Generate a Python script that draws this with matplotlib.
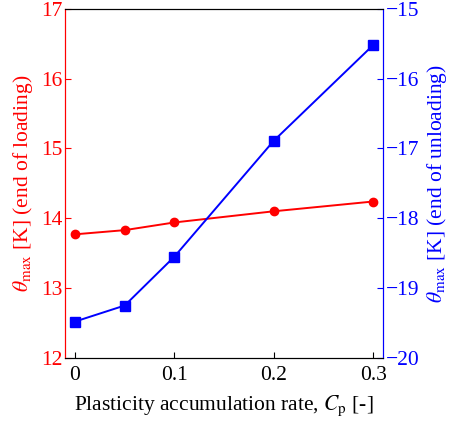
import matplotlib
matplotlib.use("Agg")
import matplotlib.pyplot as plt

# data
cp_rate = [0.0, 0.05, 0.1, 0.2, 0.3]
theta_loading = [13.77, 13.83, 13.94, 14.10, 14.24]
theta_unloading = [-19.48, -19.25, -18.55, -16.89, -15.52]

x_ticks = [0, 0.1, 0.2, 0.3]
x_tick_labels = ["0", "0.1", "0.2", "0.3"]

plt.rcParams["font.family"] = "Liberation Serif"
plt.rcParams["mathtext.fontset"] = "stix"
plt.rcParams["axes.unicode_minus"] = True

fig = plt.figure(figsize=(4.49, 4.23), dpi=100)
ax = fig.add_axes([0.145, 0.154, 0.708, 0.825])
ax2 = ax.twinx()

ax.plot(cp_rate, theta_loading, "-o", color="red", lw=1.4, ms=6)
ax2.plot(cp_rate, theta_unloading, "-s", color="blue", lw=1.4, ms=7)

ax.set_xlim(-0.01, 0.31)
ax.set_ylim(12, 17)
ax2.set_ylim(-20, -15)
ax.set_xticks(x_ticks)
ax.set_xticklabels(x_tick_labels)

ax.set_xlabel(r"Plasticity accumulation rate, $C_{\rm p}$ [-]", fontsize=15.5, labelpad=6)
ax.set_ylabel(r"$\theta_{\rm max}$ [K] (end of loading)", fontsize=15.5, color="red", labelpad=4)
ax2.set_ylabel(r"$\theta_{\rm max}$ [K] (end of unloading)", fontsize=15.5, color="blue", labelpad=4)

ax.tick_params(axis="x", direction="in", labelsize=15.5, length=4, pad=6)
ax.tick_params(axis="y", direction="in", labelsize=15.5, colors="red", length=4, pad=2)
ax2.tick_params(axis="y", direction="in", labelsize=15.5, colors="blue", length=4, pad=2)

ax.spines["left"].set_color("red")
ax2.spines["left"].set_color("red")
ax2.spines["right"].set_color("blue")
ax.spines["right"].set_color("blue")

fig.savefig("out.png", dpi=100)
